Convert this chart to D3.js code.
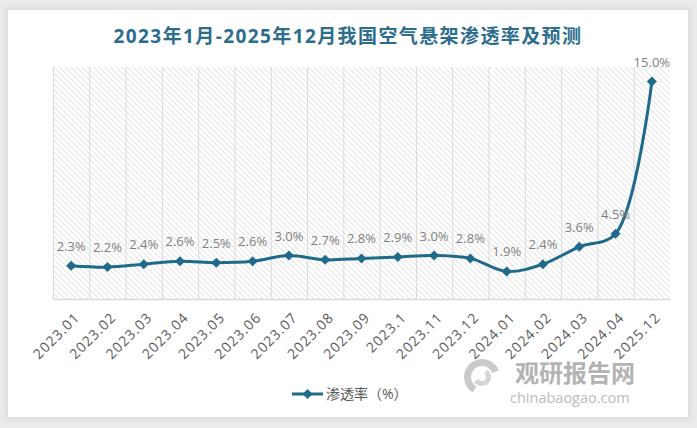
<!DOCTYPE html>
<html>
<head>
<meta charset="utf-8">
<script src="https://cdn.jsdelivr.net/npm/d3@7"></script>
<style>
  html, body { margin: 0; padding: 0; background: #ececec; }
  body { width: 697px; height: 428px; overflow: hidden; position: relative; }
  #card { position: absolute; left: 8px; top: 10px; width: 680px; height: 407px; background: #fff;
          box-shadow: 0 0 6px 3px #dcdcdc; }
  svg { position: absolute; left: 0; top: 0; }
  text { font-family: "Open Sans", "Noto Sans CJK SC", sans-serif; }
</style>
</head>
<body>
<div id="card"></div>
<div id="vis"></div>
<script>
const FRAME_WIDTH = 697;
const FRAME_HEIGHT = 428;
const MARGINS = {left: 53, right: 27, top: 67, bottom: 129};

const TITLE = "2023年1月-2025年12月我国空气悬架渗透率及预测";
const SERIES_NAME = "渗透率（%）";
const months = ["2023.01", "2023.02", "2023.03", "2023.04", "2023.05", "2023.06", "2023.07",
                "2023.08", "2023.09", "2023.1", "2023.11", "2023.12", "2024.01", "2024.02",
                "2024.03", "2024.04", "2025.12"];
const rates = [2.3, 2.2, 2.4, 2.6, 2.5, 2.6, 3.0, 2.7, 2.8, 2.9, 3.0, 2.8, 1.9, 2.4, 3.6, 4.5, 15.0];
const Y_MAX = 16;

const LINE_COLOR = "#1f6a8a";

const VIS_WIDTH = FRAME_WIDTH - MARGINS.left - MARGINS.right;
const VIS_HEIGHT = FRAME_HEIGHT - MARGINS.top - MARGINS.bottom;

const data = months.map((m, i) => ({month: m, rate: rates[i]}));

const svg = d3.select("#vis")
              .append("svg")
                .attr("width", FRAME_WIDTH)
                .attr("height", FRAME_HEIGHT);

// hatch pattern for the plot background
const defs = svg.append("defs");
const pat = defs.append("pattern")
    .attr("id", "hatch")
    .attr("patternUnits", "userSpaceOnUse")
    .attr("width", 4)
    .attr("height", 4)
    .attr("patternTransform", "rotate(-45)");
pat.append("rect").attr("width", 4).attr("height", 4).attr("fill", "#fff");
pat.append("line")
    .attr("x1", 0).attr("y1", 0).attr("x2", 0).attr("y2", 4)
    .attr("stroke", "#d4d4d4").attr("stroke-width", 1.2);

// title
svg.append("text")
    .attr("x", 348)
    .attr("y", 43)
    .attr("text-anchor", "middle")
    .attr("font-size", "19px")
    .attr("font-weight", "bold")
    .attr("letter-spacing", "1.4px")
    .attr("fill", "#2c6d8d")
    .text(TITLE);

const FRAME = svg.append("g")
    .attr("transform", "translate(" + MARGINS.left + "," + MARGINS.top + ")");

const X_SCALE = d3.scaleBand()
    .domain(months)
    .range([0, VIS_WIDTH]);

const Y_SCALE = d3.scaleLinear()
    .domain([0, Y_MAX])
    .range([VIS_HEIGHT, 0]);

// plot background
FRAME.append("rect")
    .attr("width", VIS_WIDTH)
    .attr("height", VIS_HEIGHT)
    .attr("fill", "url(#hatch)");

// vertical gridlines at category boundaries
FRAME.selectAll(".vgrid")
    .data(months)
    .enter()
    .append("line")
      .attr("x1", (d) => X_SCALE(d) + 0.5)
      .attr("x2", (d) => X_SCALE(d) + 0.5)
      .attr("y1", 0)
      .attr("y2", VIS_HEIGHT)
      .attr("stroke", "#d9d9d9")
      .attr("stroke-width", 1);

// x axis
const xAxis = FRAME.append("g")
    .attr("transform", "translate(0," + VIS_HEIGHT + ")")
    .call(d3.axisBottom(X_SCALE).tickSize(0).tickPadding(0));
xAxis.select(".domain").attr("stroke", "#d9d9d9").attr("stroke-width", 1.5);
xAxis.selectAll("text")
    .attr("font-size", "14px")
    .attr("letter-spacing", "1px")
    .attr("fill", "#595959")
    .attr("text-anchor", "end")
    .attr("dy", "0.35em")
    .attr("transform", "translate(6,16) rotate(-45)")
    .attr("y", 0)
    .attr("x", 0);

// line
const cx = (d) => X_SCALE(d.month) + X_SCALE.bandwidth() / 2;
const line = d3.line()
    .x(cx)
    .y((d) => Y_SCALE(d.rate))
    .curve(d3.curveCatmullRom.alpha(0.5));

FRAME.append("path")
    .datum(data)
    .attr("d", line)
    .attr("fill", "none")
    .attr("stroke", LINE_COLOR)
    .attr("stroke-width", 3);

const diamond = d3.symbol().type(d3.symbolDiamond2).size(64);

FRAME.selectAll(".pt")
    .data(data)
    .enter()
    .append("path")
      .attr("d", diamond)
      .attr("transform", (d) => "translate(" + cx(d) + "," + Y_SCALE(d.rate) + ")")
      .attr("fill", LINE_COLOR);

FRAME.selectAll(".lbl")
    .data(data)
    .enter()
    .append("text")
      .attr("x", cx)
      .attr("y", (d) => Y_SCALE(d.rate) - 15)
      .attr("text-anchor", "middle")
      .attr("font-size", "13px")
      .attr("fill", "#7f7f7f")
      .text((d) => d.rate.toFixed(1) + "%");

// legend
const LEG = svg.append("g").attr("transform", "translate(292,394)");
LEG.append("line")
    .attr("x1", 0).attr("x2", 31).attr("y1", 0).attr("y2", 0)
    .attr("stroke", LINE_COLOR).attr("stroke-width", 3);
LEG.append("path")
    .attr("d", diamond)
    .attr("transform", "translate(15.5,0)")
    .attr("fill", LINE_COLOR);
LEG.append("text")
    .attr("x", 34)
    .attr("y", 0)
    .attr("dy", "0.35em")
    .attr("font-size", "14px")
    .attr("fill", "#595959")
    .text(SERIES_NAME);

// watermark
const WM = svg.append("g").attr("opacity", 0.75);
WM.append("path")
    .attr("d", d3.arc()({innerRadius: 11, outerRadius: 18, startAngle: -2.6, endAngle: 1.2}))
    .attr("transform", "translate(482,377)")
    .attr("fill", "#b9b9b9");
WM.append("path")
    .attr("d", d3.arc()({innerRadius: 4, outerRadius: 9, startAngle: 0.6, endAngle: 4.2}))
    .attr("transform", "translate(482,377)")
    .attr("fill", "#c8c8c8");
WM.append("text")
    .attr("x", 515)
    .attr("y", 382)
    .attr("font-size", "24px")
    .attr("font-weight", "bold")
    .attr("font-family", "Noto Sans CJK SC")
    .attr("fill", "#9a9a9a")
    .text("观研报告网");
WM.append("text")
    .attr("x", 510)
    .attr("y", 403)
    .attr("font-size", "14.5px")
    .attr("fill", "#a5a5a5")
    .text("chinabaogao.com");
</script>
</body>
</html>
